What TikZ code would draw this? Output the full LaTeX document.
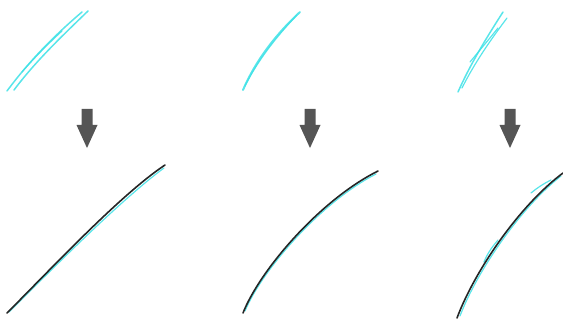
\documentclass[tikz,border=0pt]{standalone}
\usetikzlibrary{calc}
\definecolor{sketchcyan}{RGB}{60,225,230}
\definecolor{arrowgray}{RGB}{85,85,85}
\begin{document}
\begin{tikzpicture}[x=1pt, y=-1pt,
    stroke/.style={sketchcyan, line width=1.2pt, line cap=round, opacity=0.85},
    fitcurve/.style={black!85, line width=1.6pt, line cap=round},
    downarrow/.pic={\fill[arrowgray] (-5.5,0) -- (5.5,0) -- (5.5,16) -- (10.5,16) -- (0,39) -- (-10.5,16) -- (-5.5,16) -- cycle;}]
    \useasboundingbox (0,0) rectangle (563,321);

    % Input strokes (top row)
    \draw[stroke, line width=1.5pt] (7,91) .. controls (30,60) and (55,35) .. (82,12);
    \draw[stroke, line width=1.5pt] (14,90) .. controls (35,62) and (60,38) .. (88,11);
    \draw[stroke] (22,72) .. controls (35,57) and (50,42) .. (62,31);

    \draw[stroke, line width=2pt] (243,90) .. controls (255,62) and (275,35) .. (300,12);
    \draw[stroke] (245,86) .. controls (258,60) and (277,36) .. (297,15);

    \draw[stroke, line width=1.5pt] (458,92) .. controls (470,65) and (485,40) .. (503,12);
    \draw[stroke] (462,88) .. controls (475,62) and (492,38) .. (507,18);
    \draw[stroke] (470,62) .. controls (480,50) and (490,38) .. (498,28);

    % Arrows
    \pic at (87,109) {downarrow};
    \pic at (310,109) {downarrow};
    \pic at (510,109) {downarrow};

    % Fitted curves (bottom row)
    \draw[stroke] (9,312) .. controls (53,268) and (123,198) .. (164,168);
    \draw[fitcurve] (7,313) .. controls (50,270) and (120,195) .. (165,165);

    \draw[stroke] (245,311) .. controls (262,270) and (321,202) .. (376,174);
    \draw[fitcurve] (243,313) .. controls (260,270) and (320,200) .. (378,171);

    \draw[stroke] (460,316) .. controls (477,271) and (521,207) .. (561,176);
    \draw[stroke] (484,262) .. controls (488,252) and (493,246) .. (498,240);
    \draw[stroke] (531,193) .. controls (537,188) and (543,184) .. (551,180);
    \draw[fitcurve] (457,318) .. controls (475,270) and (520,205) .. (563,173);
\end{tikzpicture}
\end{document}
